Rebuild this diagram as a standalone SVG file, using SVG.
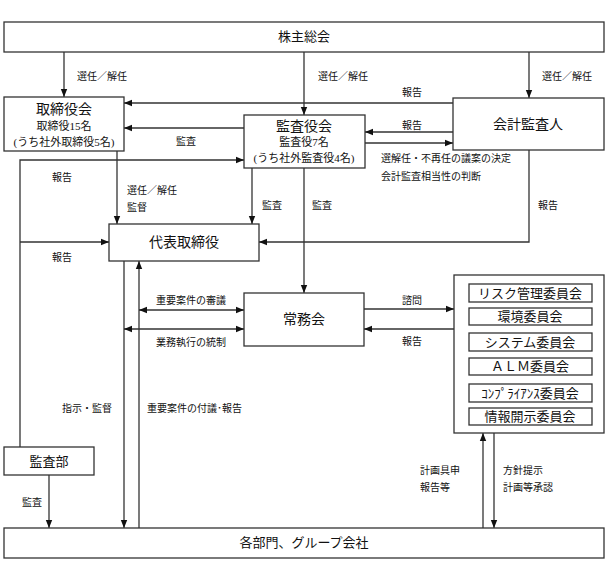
<svg xmlns="http://www.w3.org/2000/svg" width="608" height="562" viewBox="0 0 608 562">
<defs>
<marker id="ah" viewBox="0 0 10 10" refX="10" refY="5" markerWidth="8" markerHeight="8" markerUnits="userSpaceOnUse" orient="auto-start-reverse"><path d="M0,1 L10,5 L0,9 z" fill="#111"/></marker>
<style>
.box{fill:#fff;stroke:#333;stroke-width:1.3}
.ln{fill:none;stroke:#333;stroke-width:1.3}
text{font-family:"Liberation Serif","Noto Sans CJK JP",serif;fill:#111}
.t1{font-size:14px;text-anchor:middle}
.t2{font-size:11px;text-anchor:middle}
.t3{font-size:13px;text-anchor:middle}
.lb{font-size:10px}
</style>
</defs>
<rect width="608" height="562" fill="#fff"/>
<g id="connectors">
<path class="ln" d="M64,52 V97" marker-end="url(#ah)"/>
<path class="ln" d="M304,52 V115" marker-end="url(#ah)"/>
<path class="ln" d="M529,52 V98" marker-end="url(#ah)"/>
<path class="ln" d="M453,103 H124" marker-end="url(#ah)"/>
<path class="ln" d="M244,128 H124" marker-end="url(#ah)"/>
<path class="ln" d="M453,132 H365" marker-end="url(#ah)"/>
<path class="ln" d="M365,143 H453" marker-end="url(#ah)"/>
<path class="ln" d="M117,151 V224" marker-end="url(#ah)"/>
<path class="ln" d="M252,168 V224" marker-end="url(#ah)"/>
<path class="ln" d="M304,168 V293" marker-end="url(#ah)"/>
<path class="ln" d="M529,150 V242 H259" marker-end="url(#ah)"/>
<path class="ln" d="M20,447 V160 H244" marker-end="url(#ah)"/>
<path class="ln" d="M20,242 H109" marker-end="url(#ah)"/>
<path class="ln" d="M124,261 V528" marker-end="url(#ah)"/>
<path class="ln" d="M139,528 V261" marker-end="url(#ah)"/>
<path class="ln" d="M139,310 H244" marker-start="url(#ah)" marker-end="url(#ah)"/>
<path class="ln" d="M124,329 H244" marker-start="url(#ah)" marker-end="url(#ah)"/>
<path class="ln" d="M364,309 H454" marker-end="url(#ah)"/>
<path class="ln" d="M454,329 H364" marker-end="url(#ah)"/>
<path class="ln" d="M483,528 V433" marker-end="url(#ah)"/>
<path class="ln" d="M494,433 V528" marker-end="url(#ah)"/>
<path class="ln" d="M49,475 V528" marker-end="url(#ah)"/>
<text class="lb" x="77" y="80">選任／解任</text>
<text class="lb" x="318" y="80">選任／解任</text>
<text class="lb" x="542" y="80">選任／解任</text>
<text class="lb" x="402" y="96">報告</text>
<text class="lb" x="402" y="129">報告</text>
<text class="lb" x="176" y="145">監査</text>
<text class="lb" x="381" y="162">選解任・不再任の議案の決定</text>
<text class="lb" x="381" y="180">会計監査相当性の判断</text>
<text class="lb" x="52" y="181">報告</text>
<text class="lb" x="127" y="194">選任／解任</text>
<text class="lb" x="127" y="211">監督</text>
<text class="lb" x="262" y="209">監査</text>
<text class="lb" x="312" y="209">監査</text>
<text class="lb" x="538" y="209">報告</text>
<text class="lb" x="52" y="261">報告</text>
<text class="lb" x="156" y="304">重要案件の審議</text>
<text class="lb" x="156" y="346">業務執行の統制</text>
<text class="lb" x="402" y="304">諮問</text>
<text class="lb" x="402" y="345">報告</text>
<text class="lb" x="62" y="412">指示・監督</text>
<text class="lb" x="147" y="412">重要案件の付議･報告</text>
<text class="lb" x="22" y="506">監査</text>
<text class="lb" x="420" y="474">計画具申</text>
<text class="lb" x="420" y="491">報告等</text>
<text class="lb" x="503" y="474">方針提示</text>
<text class="lb" x="503" y="491">計画等承認</text>
</g>
<g id="n-kabunushi"><rect class="box" x="4" y="22" width="600" height="30"/><text class="t3" x="304" y="41">株主総会</text></g>
<g id="n-torishimariyakukai"><rect class="box" x="4" y="97" width="120" height="54"/><text class="t1" x="64" y="114">取締役会</text><text class="t2" x="64" y="130">取締役15名</text><text class="t2" x="64" y="146">(うち社外取締役5名)</text></g>
<g id="n-kansayakukai"><rect class="box" x="244" y="115" width="121" height="53"/><text class="t1" x="304" y="131">監査役会</text><text class="t2" x="304" y="146">監査役7名</text><text class="t2" x="304" y="162">(うち社外監査役4名)</text></g>
<g id="n-kaikeikansanin"><rect class="box" x="453" y="98" width="151" height="52"/><text class="t1" x="528" y="129">会計監査人</text></g>
<g id="n-daihyo"><rect class="box" x="109" y="224" width="150" height="37"/><text class="t1" x="184" y="247">代表取締役</text></g>
<g id="n-jomukai"><rect class="box" x="244" y="293" width="120" height="53"/><text class="t1" x="304" y="324">常務会</text></g>
<g id="n-iinkai"><rect class="box" x="454" y="275" width="150" height="158"/>
<rect class="box" x="469" y="284" width="123" height="18"/><text class="t3" x="530" y="297.5">リスク管理委員会</text>
<rect class="box" x="469" y="308" width="123" height="17"/><text class="t3" x="530" y="321">環境委員会</text>
<rect class="box" x="469" y="333" width="123" height="18"/><text class="t3" x="530" y="346.5">システム委員会</text>
<rect class="box" x="469" y="358" width="123" height="17"/><text class="t3" x="530" y="371">ＡＬＭ委員会</text>
<rect class="box" x="469" y="384" width="123" height="18"/><text class="t3" x="530" y="397.5">ｺﾝﾌﾟﾗｲｱﾝｽ委員会</text>
<rect class="box" x="469" y="408" width="123" height="17"/><text class="t3" x="530" y="421">情報開示委員会</text>
</g>
<g id="n-kansabu"><rect class="box" x="4" y="447" width="90" height="28"/><text class="t3" x="49" y="466">監査部</text></g>
<g id="n-kakubumon"><rect class="box" x="4" y="528" width="600" height="30"/><text class="t3" x="304" y="547">各部門、グループ会社</text></g>
</svg>
